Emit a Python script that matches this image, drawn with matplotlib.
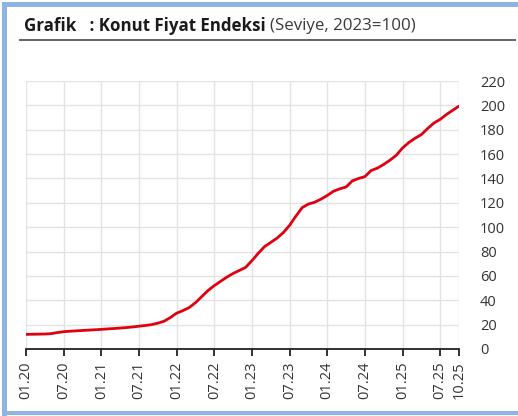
import matplotlib
matplotlib.use("Agg")
import matplotlib.pyplot as plt
from matplotlib.patches import Rectangle
from matplotlib.lines import Line2D

plt.rcParams['font.family'] = ['Open Sans', 'DejaVu Sans']

# -----------------------------------------------------------------------------
# Veri: Konut Fiyat Endeksi (2023=100), aylik 01.2020 - 10.2025
# -----------------------------------------------------------------------------
kfe_2020 = [12.0, 12.1, 12.2, 12.3, 12.6, 13.5, 14.2, 14.6, 14.9, 15.2, 15.5, 15.8]
kfe_2021 = [16.1, 16.5, 16.8, 17.2, 17.6, 18.1, 18.7, 19.3, 20.0, 21.2, 22.8, 25.8]
kfe_2022 = [29.4, 31.5, 34.0, 38.0, 43.0, 48.0, 52.0, 55.5, 59.0, 62.0, 64.5, 67.0]
kfe_2023 = [72.5, 78.5, 84.0, 87.5, 91.0, 95.5, 101.5, 109.0, 116.0, 119.0, 120.5, 123.0]
kfe_2024 = [126.0, 129.5, 131.5, 133.0, 138.0, 140.0, 141.5, 146.5, 148.5, 151.5, 155.0, 159.0]
kfe_2025 = [165.0, 169.5, 173.0, 176.0, 181.0, 185.5, 188.5, 192.5, 196.0, 199.4]

values = kfe_2020 + kfe_2021 + kfe_2022 + kfe_2023 + kfe_2024 + kfe_2025
months = list(range(len(values)))

tick_pos = [0, 6, 12, 18, 24, 30, 36, 42, 48, 54, 60, 66, 69]
tick_labels = ["01.20", "07.20", "01.21", "07.21", "01.22", "07.22", "01.23",
               "07.23", "01.24", "07.24", "01.25", "07.25", "10.25"]
y_ticks = list(range(0, 221, 20))

W, H = 518, 416
fig = plt.figure(figsize=(W / 100, H / 100), dpi=100)

# -----------------------------------------------------------------------------
# Cerceve (mavi kenar) ve baslik
# -----------------------------------------------------------------------------
blue = "#8DB4E2"
fig.add_artist(Rectangle((2 / W, 0 / H), 5 / W, 1 - 2 / H, transform=fig.transFigure,
                         color=blue, lw=0))
fig.add_artist(Rectangle((2 / W, 1 - 7 / H), 1, 5 / H, transform=fig.transFigure,
                         color=blue, lw=0))
fig.add_artist(Rectangle((2 / W, 1 / H), 1, 4 / H, transform=fig.transFigure,
                         color=blue, lw=0))

t1 = fig.text(24 / W, 1 - 26 / H, "Grafik   : Konut Fiyat Endeksi", fontsize=12.2,
              fontweight="bold", color="#1a1a1a", va="center", ha="left")
fig.canvas.draw()
bb = t1.get_window_extent()
fig.text((bb.x1 + 4) / W, 1 - 26 / H, "(Seviye, 2023=100)", fontsize=12.2,
         color="#3a3a3a", va="center", ha="left")
fig.add_artist(Line2D([20 / W, 515 / W], [1 - 40 / H, 1 - 40 / H],
                      transform=fig.transFigure, color="#555555", lw=1.3))

# -----------------------------------------------------------------------------
# Grafik
# -----------------------------------------------------------------------------
ax = fig.add_axes([26 / W, 67 / H, 433 / W, 268 / H])
ax.plot(months, values, color="#E00010", lw=2.0, solid_capstyle="round", zorder=3)

ax.set_xlim(0, 69)
ax.set_ylim(0, 220)
ax.set_xticks(tick_pos)
ax.set_xticklabels(tick_labels, rotation=90, fontsize=10.5, color="#333333")
ax.set_yticks(y_ticks)
ax.set_yticklabels([str(v) for v in y_ticks], fontsize=10.5, color="#333333")
ax.yaxis.tick_right()
ax.tick_params(axis="y", length=0, pad=15)
ax.tick_params(axis="x", length=5, width=1.3, color="#222222", pad=4, direction="out")

ax.grid(True, color="#e3e3e3", lw=1.0)
ax.set_axisbelow(True)
for s in ["top", "right", "left"]:
    ax.spines[s].set_visible(False)
ax.spines["bottom"].set_color("#222222")
ax.spines["bottom"].set_linewidth(1.3)

fig.savefig("out.png", dpi=100)
